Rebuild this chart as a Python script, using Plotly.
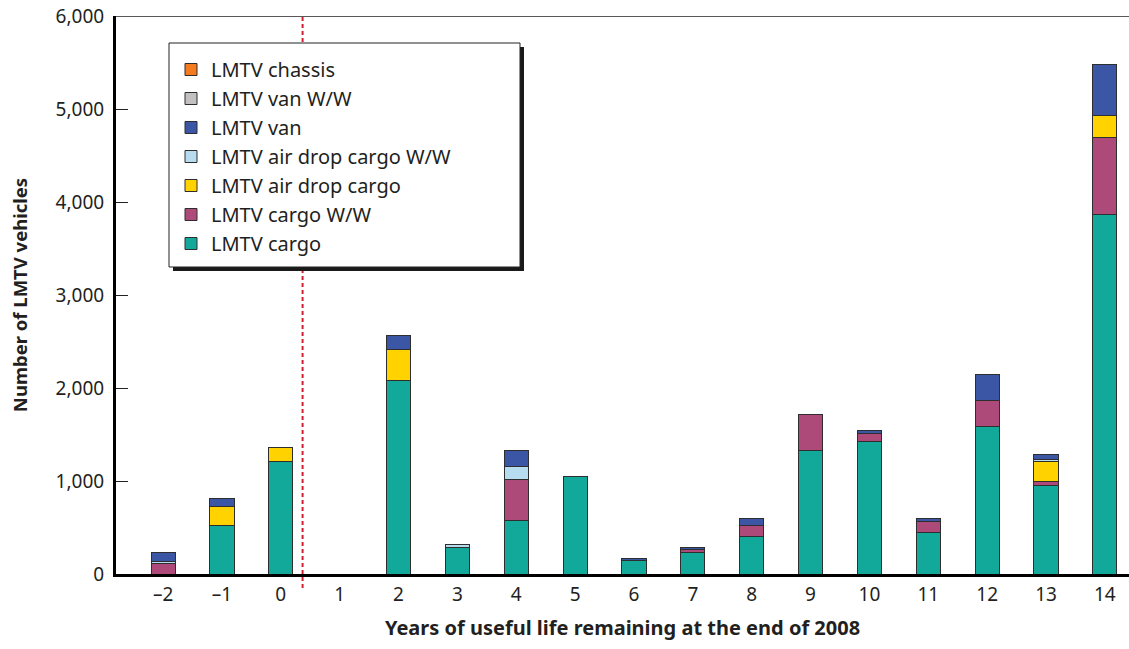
import plotly.graph_objects as go

# years of useful life remaining at the end of 2008
YEARS = [-2, -1, 0, 1, 2, 3, 4, 5, 6, 7, 8, 9, 10, 11, 12, 13, 14]
YEAR_LABELS = ["\u20132", "\u20131", "0", "1", "2", "3", "4", "5", "6", "7",
               "8", "9", "10", "11", "12", "13", "14"]

CARGO = [0, 520, 1210, 0, 2085, 285, 570, 1045, 140, 235, 405, 1325, 1420, 450, 1590, 950, 3870]
CARGO_WW = [110, 0, 0, 0, 0, 0, 450, 0, 0, 25, 120, 385, 95, 115, 280, 50, 825]
AIR_DROP = [0, 210, 150, 0, 330, 0, 0, 0, 0, 0, 0, 0, 0, 0, 0, 210, 235]
AIR_DROP_WW = [25, 0, 0, 0, 0, 30, 140, 0, 0, 0, 0, 0, 0, 0, 0, 25, 0]
VAN = [100, 80, 0, 0, 150, 0, 170, 0, 30, 30, 75, 0, 30, 30, 270, 50, 550]
VAN_WW = [0] * 17
CHASSIS = [0] * 17

# stacking order bottom -> top
SERIES = [
    ("LMTV cargo", CARGO, "#12a89a"),
    ("LMTV cargo W/W", CARGO_WW, "#ad4a7a"),
    ("LMTV air drop cargo", AIR_DROP, "#ffd200"),
    ("LMTV air drop cargo W/W", AIR_DROP_WW, "#b7dcef"),
    ("LMTV van", VAN, "#3a56a5"),
    ("LMTV van W/W", VAN_WW, "#c2c0c1"),
    ("LMTV chassis", CHASSIS, "#f47b20"),
]

TEXT = "#231f20"
FONT = "Noto Sans"

FIG_W, FIG_H = 1129, 649
# plot area in pixels
L, T, W, H = 116, 16, 1013, 558


def px_x(p):
    return (p - L) / W


def px_y(p):
    return 1 - (p - T) / H


fig = go.Figure()
for i, (name, vals, color) in enumerate(SERIES):
    fig.add_trace(go.Bar(
        x=YEARS, y=vals, name=name,
        marker=dict(color=color, line=dict(color="#2e2e2e", width=1)),
        width=0.41, legendrank=len(SERIES) - i,
    ))

shapes = [
    # dashed divider between past and remaining life
    dict(type="line", xref="x", yref="paper", x0=0.37, x1=0.37,
         y0=px_y(588), y1=1, line=dict(color="#d3202f", width=2, dash="4px,3px"),
         layer="above"),
    # top frame line
    dict(type="line", xref="paper", yref="y", x0=0, x1=1, y0=6000, y1=6000,
         line=dict(color="#222", width=1.5), layer="above"),
    # legend shadow and box
    dict(type="rect", xref="paper", yref="paper",
         x0=px_x(173), x1=px_x(524), y0=px_y(271), y1=px_y(47),
         fillcolor="#1a1a1a", line=dict(width=0), layer="above"),
    dict(type="rect", xref="paper", yref="paper",
         x0=px_x(169), x1=px_x(520), y0=px_y(267), y1=px_y(43),
         fillcolor="white", line=dict(color="#222", width=1), layer="above"),
]

fig.update_layout(
    barmode="stack",
    width=FIG_W, height=FIG_H,
    margin=dict(l=L, r=FIG_W - L - W, t=T, b=FIG_H - T - H),
    plot_bgcolor="white", paper_bgcolor="white",
    font=dict(family=FONT, color=TEXT, size=19),
    shapes=shapes,
    showlegend=True,
    legend=dict(
        x=px_x(171), y=px_y(50), xanchor="left", yanchor="top",
        traceorder="normal",
        bgcolor="rgba(0,0,0,0)", borderwidth=0,
        font=dict(family=FONT, size=20, color=TEXT),
    ),
    xaxis=dict(
        range=[-2.8, 14.41],
        tickvals=YEARS, ticktext=YEAR_LABELS,
        showgrid=False, zeroline=False,
        showline=True, linecolor="black", linewidth=3,
        ticks="", ticklabelstandoff=1,
        automargin=False,
        title=dict(text="<b>Years of useful life remaining at the end of 2008</b>",
                   font=dict(size=20), standoff=16),
        fixedrange=True,
    ),
    yaxis=dict(
        range=[0, 6000],
        tickvals=[0, 1000, 2000, 3000, 4000, 5000, 6000],
        tickformat=",d",
        ticklabeloverflow="allow",
        automargin=False,
        showgrid=False, zeroline=False,
        showline=True, linecolor="black", linewidth=3,
        ticks="inside", ticklen=12, tickwidth=1, tickcolor="#222",
        ticklabelstandoff=5,
        title=dict(text="<b>Number of LMTV vehicles</b>", font=dict(size=18.5),
                   standoff=24),
        fixedrange=True,
    ),
)

# drop the default 8px body margin so the figure fills the window exactly
fig.write_html("out.html", config={"displayModeBar": False},
               post_script="document.body.style.margin='0';")
